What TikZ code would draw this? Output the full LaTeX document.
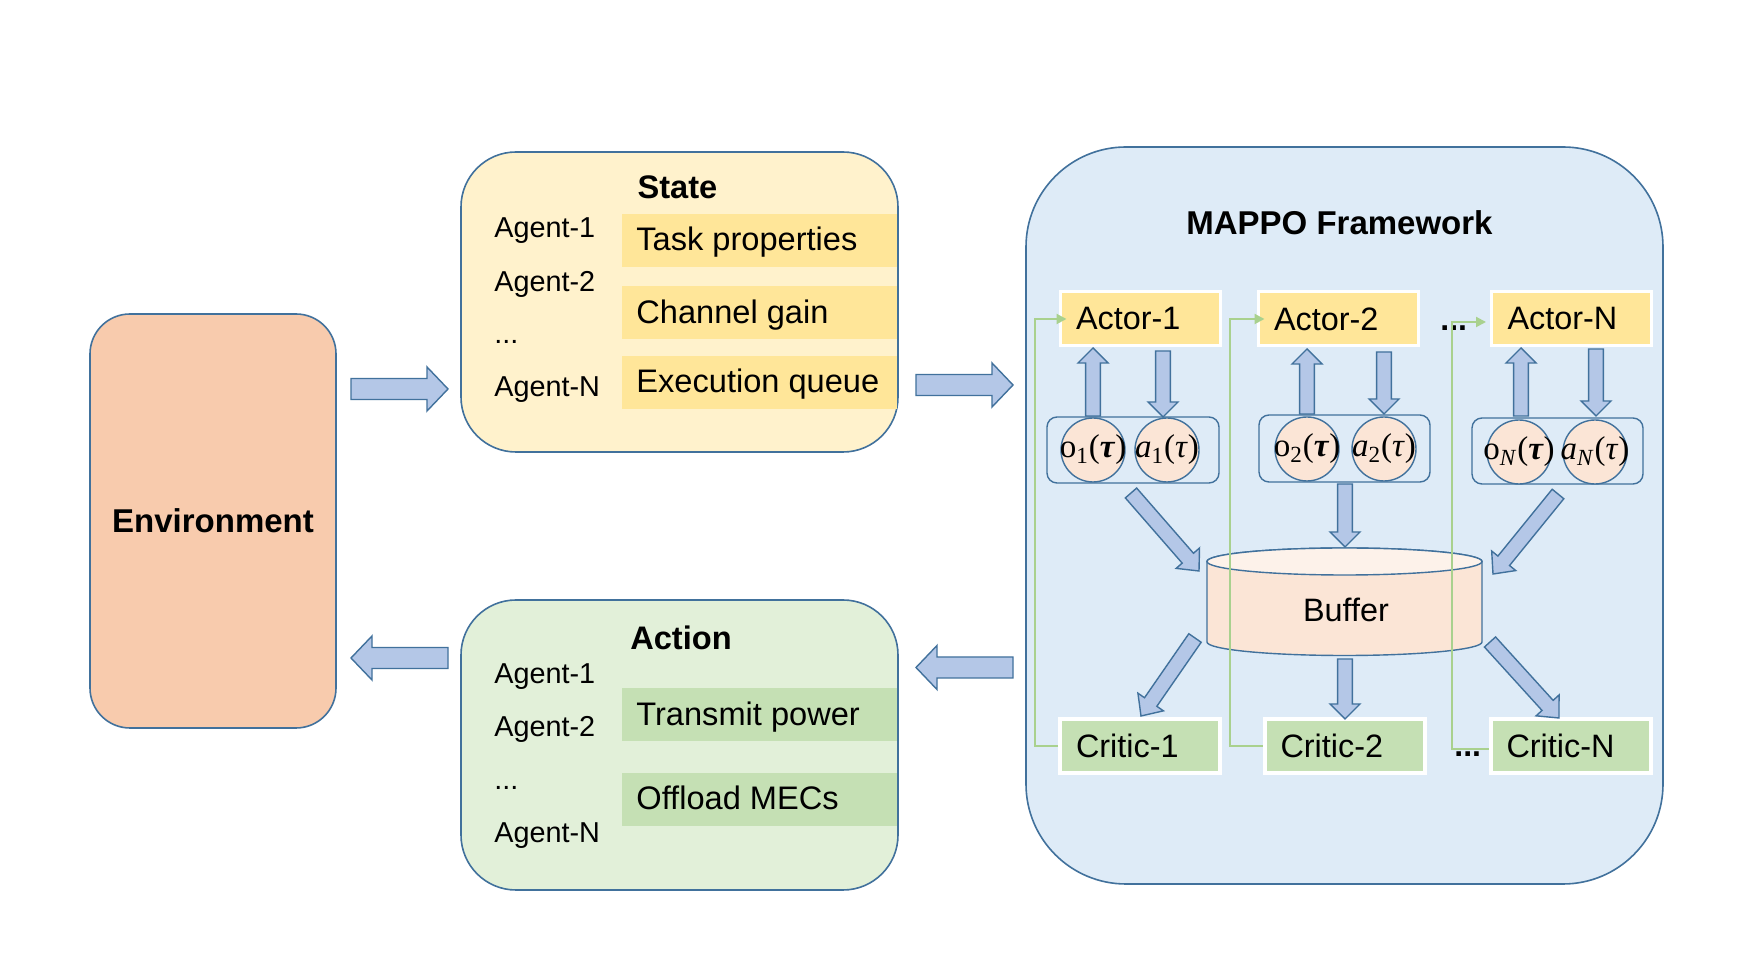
\documentclass[tikz,border=0pt]{standalone}
\usepackage{fontspec}
\setmainfont{Liberation Sans}
\newfontfamily\tms{Liberation Serif}
\usetikzlibrary{calc,arrows.meta}

\definecolor{bord}{HTML}{41719C}
\definecolor{envfill}{HTML}{F8CBAD}
\definecolor{statefill}{HTML}{FFF2CC}
\definecolor{statebar}{HTML}{FFE699}
\definecolor{actfill}{HTML}{E2F0D9}
\definecolor{actbar}{HTML}{C5E0B4}
\definecolor{mapfill}{HTML}{DEEBF7}
\definecolor{circfill}{HTML}{FBE5D6}
\definecolor{buftop}{HTML}{FDF2EA}
\definecolor{arrfill}{HTML}{B4C7E7}
\definecolor{gline}{HTML}{A9D18E}

% block arrow: tail, tip, shaft half width, head half width, head length
\newcommand\blockarr[5]{%
  \coordinate (bhT) at (#1); \coordinate (bhP) at (#2);
  \coordinate (bhH) at ($(bhP)!#5!(bhT)$);
  \draw[barr] ($(bhT)!#3!90:(bhP)$) -- ($(bhH)!#3!-90:(bhT)$) -- ($(bhH)!#4!-90:(bhT)$)
    -- (bhP) -- ($(bhH)!#4!90:(bhT)$) -- ($(bhH)!#3!90:(bhT)$) -- ($(bhT)!#3!-90:(bhP)$) -- cycle;}

\tikzset{
  barr/.style={draw=bord, fill=arrfill, line width=0.7pt, line join=miter},
  bigbox/.style={draw=bord, line width=0.8pt, inner sep=0pt},
  barbox/.style={inner sep=0pt, anchor=north west, minimum width=137.5pt, minimum height=26.5pt},
  bartext/.style={anchor=base west, inner sep=0pt, font=\fontsize{16.3}{19}\selectfont},
  agent/.style={anchor=base west, inner sep=0pt, font=\fontsize{14.4}{17}\selectfont},
  titletext/.style={anchor=base, inner sep=0pt, font=\bfseries\fontsize{16.3}{19}\selectfont},
  actorbox/.style={fill=statebar, draw=white, line width=1.5pt, minimum width=80pt, minimum height=27pt,
     text width=64pt, inner xsep=8pt, inner ysep=0pt, align=left, font=\fontsize{16.2}{19}\selectfont},
  criticbox/.style={actorbox, fill=actbar, line width=2pt},
  grpbox/.style={draw=bord, line width=0.7pt, rounded corners=5pt, inner sep=0pt},
  circ/.style={circle, draw=bord, fill=circfill, line width=0.7pt, minimum size=32pt, inner sep=0pt},
  ctext/.style={inner sep=0pt, font=\tms\fontsize{16.5}{18}\selectfont},
  gconn/.style={draw=gline, line width=1pt, -{Triangle[length=5pt,width=5pt]}},
  dots/.style={anchor=base west, inner sep=0pt, font=\bfseries\fontsize{16}{19}\selectfont},
}

\begin{document}
\begin{tikzpicture}[x=0.5pt,y=-0.5pt]
\useasboundingbox (0,0) rectangle (1763,961);
\fill[white] (0,0) rectangle (1763,961);

% ---------- Environment ----------
\node[bigbox, fill=envfill, rounded corners=20pt, minimum width=123pt, minimum height=207pt,
      font=\bfseries\fontsize{16.5}{20}\selectfont] (env) at (213,521) {Environment};

% ---------- State ----------
\node[bigbox, fill=statefill, rounded corners=27.5pt, minimum width=218.5pt, minimum height=150pt] (state) at (679.5,302) {};
\node[titletext] (statetitle) at (677.5,199) {State};
\node[barbox, fill=statebar] (sbar1) at (622,214) {};
\node[barbox, fill=statebar] (sbar2) at (622,286) {};
\node[barbox, fill=statebar] (sbar3) at (622,356) {};
\node[bartext] (st1) at (636,251) {Task properties};
\node[bartext] (st2) at (636,324) {Channel gain};
\node[bartext] (st3) at (636,393) {Execution queue};
\node[agent] (sa1) at (494,238) {Agent-1};
\node[agent] (sa2) at (494,292) {Agent-2};
\node[agent] (sa3) at (494,344) {...};
\node[agent] (sa4) at (494,397) {Agent-N};

% ---------- Action ----------
\node[bigbox, fill=actfill, rounded corners=27.5pt, minimum width=218.5pt, minimum height=145pt] (action) at (679.5,745) {};
\node[titletext] (acttitle) at (681,650) {Action};
\node[barbox, fill=actbar] (abar1) at (622,688) {};
\node[barbox, fill=actbar] (abar2) at (622,773) {};
\node[bartext] (at1) at (636,726) {Transmit power};
\node[bartext] (at2) at (636,810) {Offload MECs};
\node[agent] (aa1) at (494,684) {Agent-1};
\node[agent] (aa2) at (494,737) {Agent-2};
\node[agent] (aa3) at (494,790) {...};
\node[agent] (aa4) at (494,843) {Agent-N};

% ---------- MAPPO ----------
\node[bigbox, fill=mapfill, rounded corners=50pt, minimum width=318.5pt, minimum height=368.5pt] (mappo) at (1344.5,515.5) {};
\node[titletext, font=\bfseries\fontsize{16.5}{20}\selectfont] (maptitle) at (1339.5,235) {MAPPO Framework};

% observation groups
\node[grpbox, minimum width=86pt, minimum height=33pt] (g1) at (1133,450) {};
\node[grpbox, minimum width=85.5pt, minimum height=33.5pt] (g2) at (1344.5,448.5) {};
\node[grpbox, minimum width=85.5pt, minimum height=33pt] (gN) at (1557.5,451) {};

\node[circ] (o1) at (1093,450) {}; \node[ctext] at (o1) {o\textsubscript{1}(\textbf{\textit{τ}})};
\node[circ] (a1) at (1167,450) {}; \node[ctext] at (a1) {\textit{a}\textsubscript{1}(\textit{τ})};
\node[circ] (o2) at (1307,449) {}; \node[ctext] at (o2) {o\textsubscript{2}(\textbf{\textit{τ}})};
\node[circ] (a2) at (1384,449) {}; \node[ctext] at (a2) {\textit{a}\textsubscript{2}(\textit{τ})};
\node[circ] (oN) at (1519,452) {}; \node[ctext] at (oN) {o\textsubscript{\textit{N}}(\textbf{\textit{τ}})};
\node[circ] (aN) at (1595,452) {}; \node[ctext] at (aN) {\textit{a}\textsubscript{\textit{N}}(\textit{τ})};

% buffer
\draw[draw=bord, fill=circfill, line width=0.7pt] (1207,561.5) -- (1207,642)
   arc[start angle=180, end angle=360, x radius=68.75pt, y radius=6.75pt] -- (1482,561.5)
   arc[start angle=0, end angle=180, x radius=68.75pt, y radius=6.75pt] -- cycle;
\draw[draw=bord, fill=buftop, line width=0.7pt] (1344.5,561.5) ellipse [x radius=68.75pt, y radius=6.75pt];
\node[inner sep=0pt, anchor=base, font=\fontsize{16.2}{19}\selectfont] (buffer) at (1346,622) {Buffer};

% actors and critics
\node[actorbox] (actor1) at (1140,319) {Actor-1};
\node[actorbox] (actor2) at (1338,319) {Actor-2};
\node[actorbox] (actorN) at (1571.5,319) {Actor-N};
\node[criticbox] (critic1) at (1140,746) {Critic-1};
\node[criticbox] (critic2) at (1344.5,746) {Critic-2};
\node[criticbox] (criticN) at (1570.5,746) {Critic-N};
\node[dots] (dotsA) at (1440,331) {...};
\node[dots] (dotsC) at (1454,757) {...};

% green critic -> actor links
\draw[gconn] (critic1.west) -- ++(-23,0) |- ([xshift=4pt]actor1.west);
\draw[gconn] (critic2.west) -- ++(-33,0) |- ([xshift=4pt]actor2.west);
\draw[gconn] ([yshift=-1.5pt]criticN.west) -- ++(-37,0) |- ([xshift=-2pt,yshift=-1.5pt]actorN.west);

% ---------- block arrows ----------
\coordinate (e2s1) at (351,389);   \coordinate (e2s2) at (448,389);
\coordinate (s2m1) at (916,385);   \coordinate (s2m2) at (1013,385);
\coordinate (m2a1) at (1013,667.5);\coordinate (m2a2) at (916,667.5);
\coordinate (a2e1) at (448,658);   \coordinate (a2e2) at (351,658);
\blockarr{e2s1}{e2s2}{5.25pt}{11pt}{10.5pt}
\blockarr{s2m1}{s2m2}{5.25pt}{11pt}{10.5pt}
\blockarr{m2a1}{m2a2}{5.25pt}{11pt}{10.5pt}
\blockarr{a2e1}{a2e2}{5.25pt}{11pt}{10.5pt}

\coordinate (u1s) at (1093,416); \coordinate (u1e) at (1093,348);
\coordinate (d1s) at (1163,351); \coordinate (d1e) at (1163,417);
\coordinate (u2s) at (1307,414); \coordinate (u2e) at (1307,349);
\coordinate (d2s) at (1384,352); \coordinate (d2e) at (1384,414);
\coordinate (uNs) at (1521,416); \coordinate (uNe) at (1521,348);
\coordinate (dNs) at (1596,349); \coordinate (dNe) at (1596,416);
\blockarr{u1s}{u1e}{3.7pt}{7.5pt}{7.5pt}
\blockarr{d1s}{d1e}{3.7pt}{7.5pt}{7.5pt}
\blockarr{u2s}{u2e}{3.7pt}{7.5pt}{7.5pt}
\blockarr{d2s}{d2e}{3.7pt}{7.5pt}{7.5pt}
\blockarr{uNs}{uNe}{3.7pt}{7.5pt}{7.5pt}
\blockarr{dNs}{dNe}{3.7pt}{7.5pt}{7.5pt}

\coordinate (b1s) at (1131,493); \coordinate (b1e) at (1199,571);
\coordinate (b2s) at (1345,484); \coordinate (b2e) at (1345,547);
\coordinate (bNs) at (1558,494); \coordinate (bNe) at (1493,574);
\coordinate (c1s) at (1195,638); \coordinate (c1e) at (1141,716);
\coordinate (c2s) at (1345,659); \coordinate (c2e) at (1345,719);
\coordinate (cNs) at (1490,642); \coordinate (cNe) at (1559,718);
\blockarr{b1s}{b1e}{3.75pt}{7.75pt}{8.5pt}
\blockarr{b2s}{b2e}{3.7pt}{7.5pt}{7.5pt}
\blockarr{bNs}{bNe}{3.75pt}{7.75pt}{8.5pt}
\blockarr{c1s}{c1e}{3.75pt}{7.75pt}{8.5pt}
\blockarr{c2s}{c2e}{3.7pt}{7.5pt}{7.5pt}
\blockarr{cNs}{cNe}{3.75pt}{7.75pt}{8.5pt}
\end{tikzpicture}
\end{document}
